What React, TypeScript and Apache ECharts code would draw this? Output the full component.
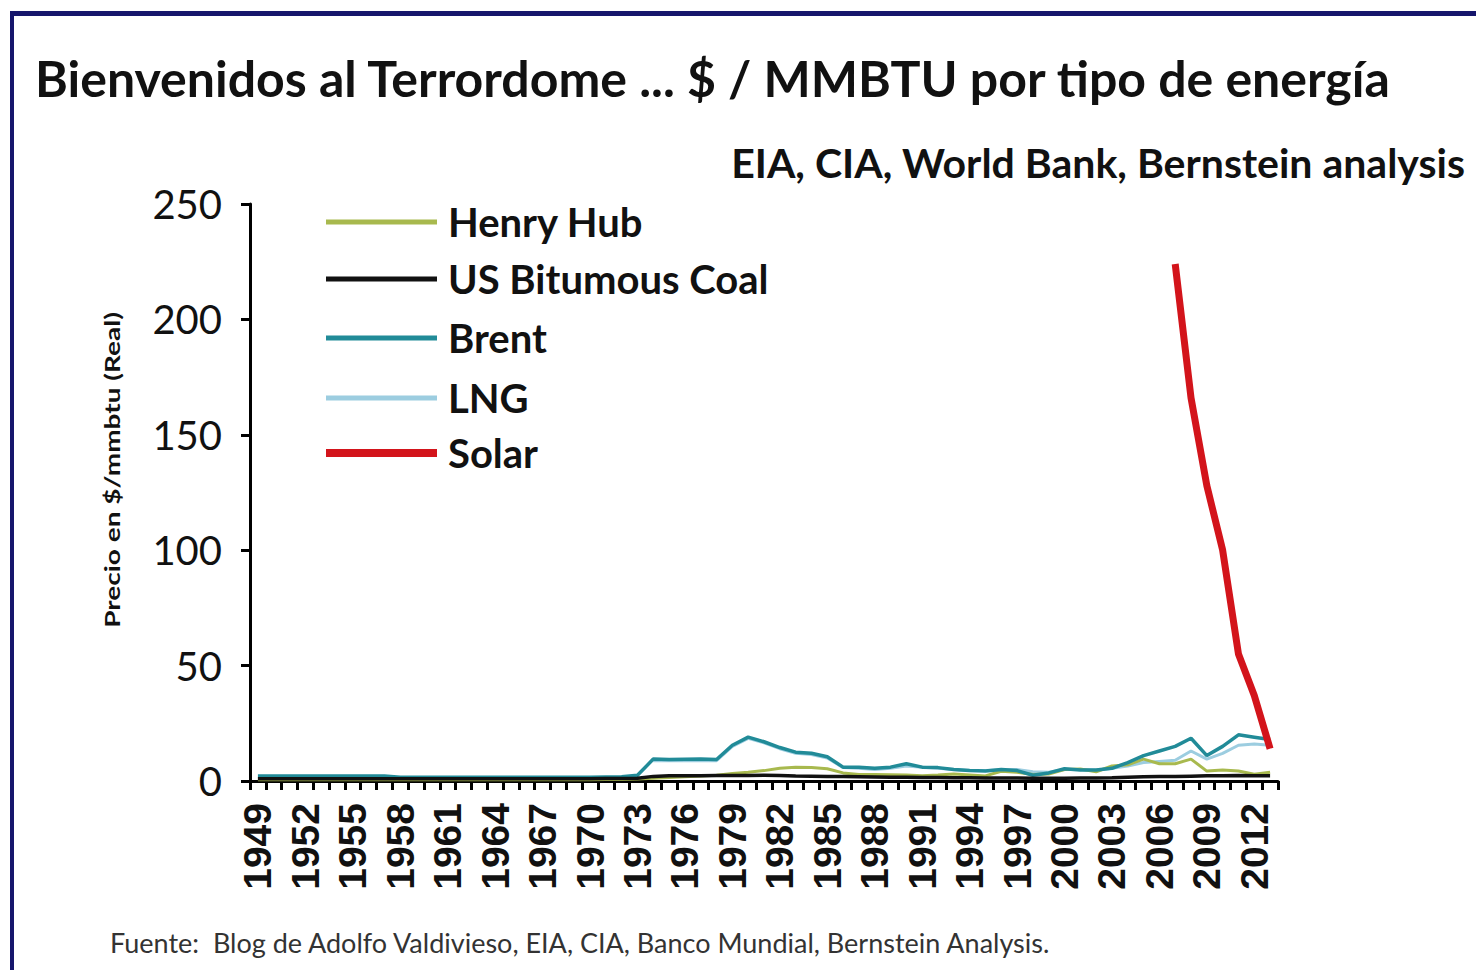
import React, { useEffect, useRef } from "react";
import * as echarts from "echarts";

const years: string[] = [];
for (let y = 1949; y <= 2013; y++) years.push(String(y));

// 1949..2013 (65 values each)
const henryHub = [
  0.5, 0.5, 0.5, 0.5, 0.5, 0.5, 0.5, 0.5, 0.5, 0.5, 0.5, 0.5, 0.5, 0.5, 0.5, 0.5, 0.5, 0.5, 0.5, 0.5, 0.5, 0.5, 0.6, 0.7,
  0.9, 1.2, 1.5, 1.8, 2.2, 2.5, 3.2, 3.8, 4.5, 5.5, 6.0, 5.8, 5.3, 3.5, 2.8, 2.8, 2.7, 2.6, 2.3, 2.6, 3.0, 2.6, 2.2,
  4.2, 3.8, 2.8, 3.0, 5.0, 5.2, 4.0, 6.5, 7.0, 9.5, 7.5, 7.5, 9.5, 4.3, 4.8, 4.3, 2.9, 3.8,
];

const coal = [
  1.0, 1.0, 1.0, 1.0, 1.0, 1.0, 1.0, 1.0, 1.0, 1.0, 1.0, 1.0, 1.0, 1.0, 1.0, 1.0, 1.0, 1.0, 1.0, 1.0, 1.0, 1.0, 1.1, 1.1,
  1.2, 2.0, 2.3, 2.3, 2.3, 2.4, 2.4, 2.4, 2.5, 2.4, 2.2, 2.1, 2.0, 1.9, 1.8, 1.7, 1.6, 1.6, 1.5, 1.5, 1.4, 1.4, 1.3,
  1.3, 1.3, 1.2, 1.2, 1.2, 1.3, 1.3, 1.4, 1.6, 1.8, 1.9, 1.9, 2.1, 2.3, 2.3, 2.4, 2.3, 2.3,
];

const brent = [
  2.2, 2.2, 2.2, 2.2, 2.2, 2.2, 2.2, 2.2, 2.2, 1.6, 1.6, 1.6, 1.6, 1.6, 1.6, 1.6, 1.6, 1.6, 1.6, 1.6, 1.6, 1.6, 1.7, 1.8,
  2.5, 9.5, 9.3, 9.4, 9.5, 9.3, 15.5, 19.0, 17.0, 14.5, 12.5, 12.0, 10.5, 6.0, 6.0, 5.5, 6.0, 7.5, 6.0, 5.8, 5.0, 4.5, 4.3,
  5.0, 4.5, 2.5, 3.5, 5.3, 4.8, 4.8, 5.5, 8.0, 11.0, 13.0, 15.0, 18.5, 11.0, 15.0, 20.0, 19.0, 18.0,
];

const lng = [
  null, null, null, null, null, null, null, null, null, null, null, null, null, null, null, null, null, null, null, null, null, null, null, null,
  null, 8.8, 8.8, 8.8, 8.8, 8.8, 15.0, 18.5, 16.5, 14.0, 12.0, 11.5, 10.0, 5.8, 5.5, 5.0, 5.5, 6.5, 6.0, 5.5, 5.0, 4.5, 4.5,
  4.8, 5.0, 4.0, 3.8, 5.0, 5.0, 4.7, 5.5, 6.5, 8.0, 8.5, 9.0, 13.0, 9.5, 12.0, 15.5, 16.0, 15.5,
];

const solar = [
  null, null, null, null, null, null, null, null, null, null, null, null, null, null, null, null, null, null, null, null, null, null, null, null,
  null, null, null, null, null, null, null, null, null, null, null, null, null, null, null, null, null, null, null, null, null, null, null,
  null, null, null, null, null, null, null, null, null, null, null, 224, 166, 128, 100, 55, 37, 14,
];

const seriesDefs = [
  { name: "Henry Hub", data: henryHub, color: "#a8b94e", width: 3, z: 3, legendWidth: 5 },
  { name: "US Bitumous Coal", data: coal, color: "#111111", width: 3.5, z: 5, legendWidth: 5 },
  { name: "Brent", data: brent, color: "#218b98", width: 3.5, z: 4, legendWidth: 5 },
  { name: "LNG", data: lng, color: "#9ccde0", width: 3, z: 2, legendWidth: 5 },
  { name: "Solar", data: solar, color: "#d3141b", width: 7, z: 6, legendWidth: 8 },
];

const legendRowsY = [222, 279, 338, 398, 453];

const yTicks = { min: 0, max: 250, interval: 50 };

const FONT = "Lato, 'Open Sans', sans-serif";

export default function App() {
  const ref = useRef<HTMLDivElement>(null);

  useEffect(() => {
    if (!ref.current) return;
    const chart = echarts.init(ref.current, undefined, { renderer: "svg" });

    const legendGraphics: any[] = [];
    seriesDefs.forEach((s, i) => {
      const y = legendRowsY[i];
      legendGraphics.push({
        type: "line",
        shape: { x1: 326, y1: y, x2: 437, y2: y },
        style: { stroke: s.color, lineWidth: s.legendWidth },
      });
      legendGraphics.push({
        type: "text",
        x: 448,
        y,
        style: {
          text: s.name,
          font: `bold 40px ${FONT}`,
          fill: "#111",
          textVerticalAlign: "middle",
        },
      });
    });

    chart.setOption({
      animation: false,
      backgroundColor: "#ffffff",
      textStyle: { fontFamily: FONT },
      grid: { left: 250, top: 204, right: 198, bottom: 189, containLabel: false },
      xAxis: {
        type: "category",
        data: years,
        boundaryGap: true,
        axisLine: { lineStyle: { color: "#000", width: 3 } },
        axisTick: { show: true, length: 9, lineStyle: { color: "#000", width: 3 }, interval: 0 },
        axisLabel: {
          interval: 2,
          rotate: 90,
          margin: 22,
          fontFamily: "'Liberation Sans', Arial, sans-serif",
          fontWeight: "bold",
          fontSize: 39,
          color: "#111",
        },
        splitLine: { show: false },
      },
      yAxis: {
        type: "value",
        min: yTicks.min,
        max: yTicks.max,
        interval: yTicks.interval,
        axisLine: { show: true, lineStyle: { color: "#000", width: 3 } },
        axisTick: { show: true, length: 9, lineStyle: { color: "#000", width: 3 } },
        axisLabel: { fontFamily: FONT, fontSize: 40, color: "#111", margin: 28 },
        splitLine: { show: false },
      },
      series: seriesDefs.map((s) => ({
        name: s.name,
        type: "line",
        data: s.data,
        symbol: "none",
        showSymbol: false,
        z: s.z,
        lineStyle: { color: s.color, width: s.width },
        itemStyle: { color: s.color },
      })),
      graphic: [
        { type: "rect", shape: { x: 10, y: 11, width: 1466, height: 5 }, style: { fill: "#16166c" } },
        { type: "rect", shape: { x: 10, y: 11, width: 4, height: 959 }, style: { fill: "#16166c" } },
        {
          type: "text",
          x: 35,
          y: 78,
          style: {
            text: "Bienvenidos al Terrordome ... $ / MMBTU por tipo de energía",
            font: `bold 50px ${FONT}`,
            fill: "#111",
            textVerticalAlign: "middle",
          },
        },
        {
          type: "text",
          x: 1465,
          y: 162,
          style: {
            text: "EIA, CIA, World Bank, Bernstein analysis",
            font: `bold 41px ${FONT}`,
            fill: "#111",
            textAlign: "right",
            textVerticalAlign: "middle",
          },
        },
        {
          type: "text",
          x: 112,
          y: 470,
          rotation: Math.PI / 2,
          scaleX: 1.4,
          style: {
            text: "Precio en $/mmbtu (Real)",
            font: `bold 20px ${FONT}`,
            fill: "#111",
            textAlign: "center",
            textVerticalAlign: "middle",
          },
        },
        {
          type: "text",
          x: 110,
          y: 942,
          style: {
            text: "Fuente:  Blog de Adolfo Valdivieso, EIA, CIA, Banco Mundial, Bernstein Analysis.",
            font: `27px ${FONT}`,
            fill: "#333",
            textVerticalAlign: "middle",
          },
        },
        ...legendGraphics,
      ],
    });
    return () => chart.dispose();
  }, []);

  return (
    <div
      ref={ref}
      style={{ position: "fixed", left: 0, top: 0, width: 1476, height: 970, background: "#fff" }}
    />
  );
}
